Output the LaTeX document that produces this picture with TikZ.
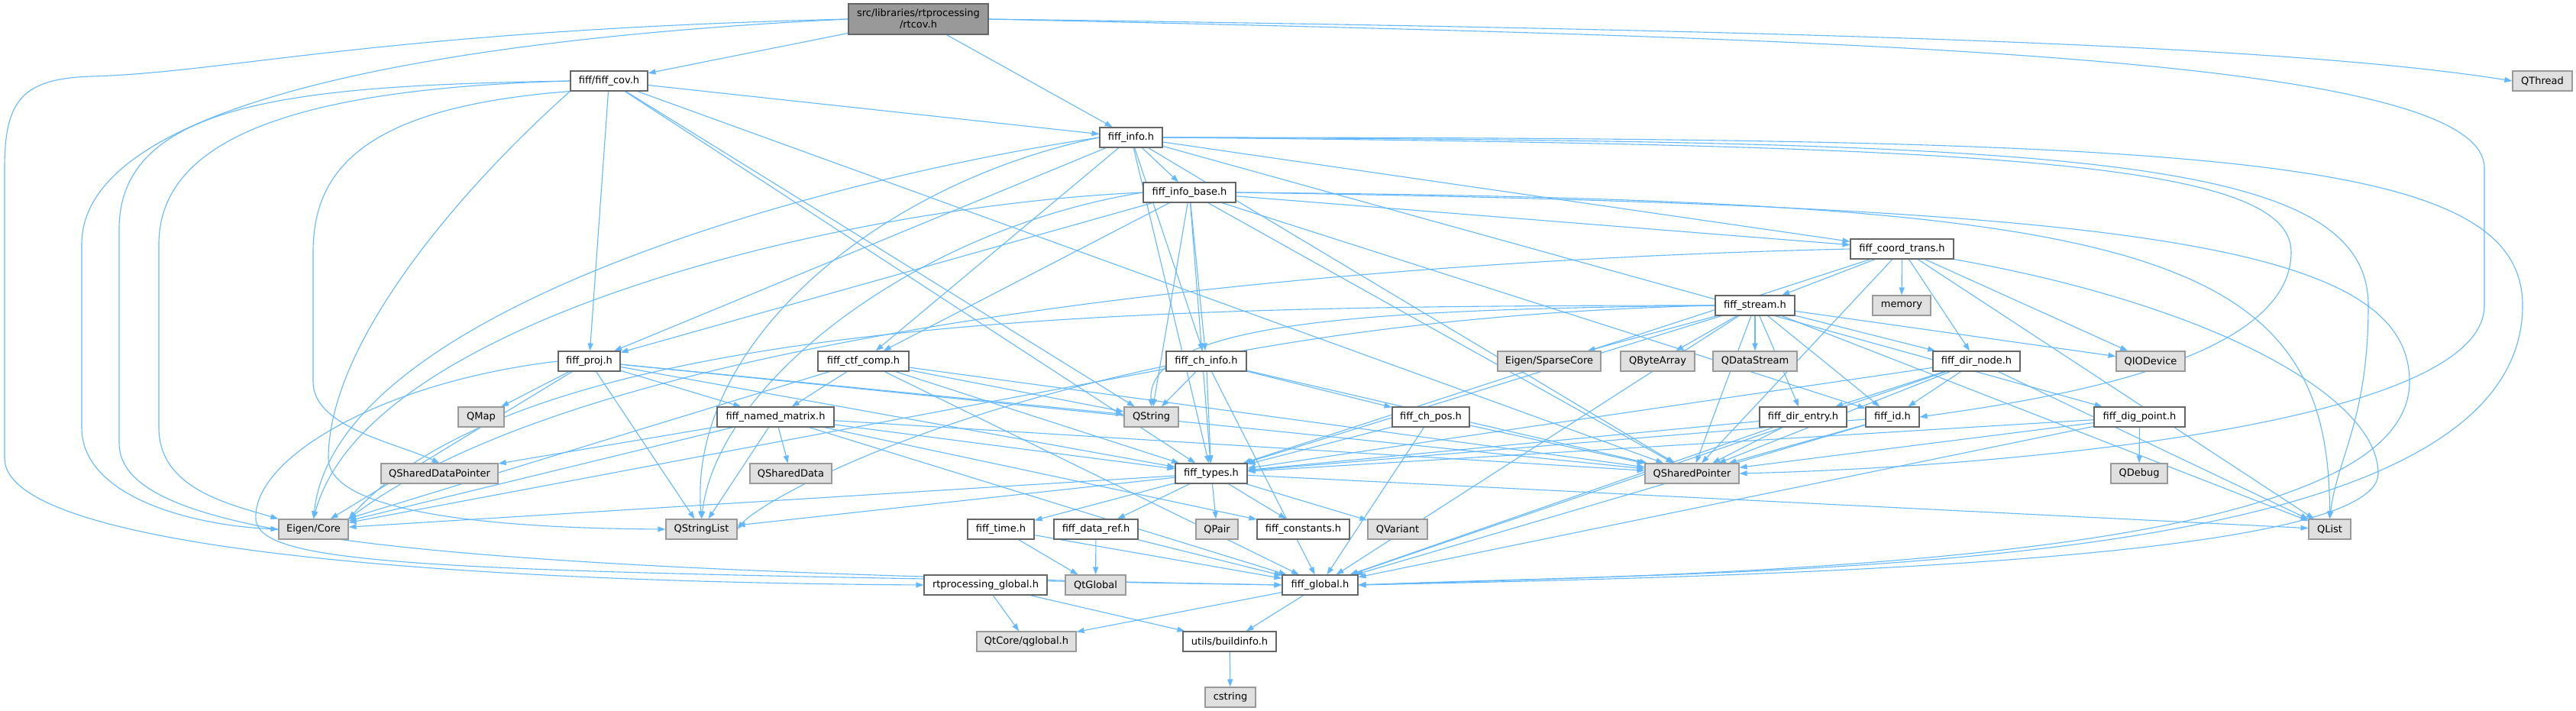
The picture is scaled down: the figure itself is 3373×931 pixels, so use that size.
\documentclass[tikz,border=0pt]{standalone}
\usepackage{fontspec}
\setmainfont{DejaVu Sans}
\usetikzlibrary{arrows.meta}
\definecolor{edgec}{HTML}{63B8FF}
\definecolor{bordc}{HTML}{666666}
\definecolor{xbord}{HTML}{999999}
\definecolor{xfill}{HTML}{E0E0E0}
\definecolor{srcfill}{HTML}{999999}
\pgfdeclarelayer{bg}
\pgfsetlayers{bg,main}
\tikzset{
  e/.style={draw=edgec, line width=1.1pt, -{Triangle[length=10pt,width=7pt]}},
  base/.style={line width=1.1pt, minimum height=26pt, inner sep=0pt, font=\fontsize{13}{15}\selectfont},
  fnode/.style={base, draw=bordc, fill=white},
  xnode/.style={base, draw=xbord, fill=xfill},
  snode/.style={base, draw=bordc, fill=srcfill, align=center, minimum height=40pt},
}
\begin{document}
\begin{tikzpicture}[x=1pt,y=-1pt]
\useasboundingbox (0,0) rectangle (3373,931);
% row 0
\node[snode, minimum width=183pt] (src) at (1202.5,25) {src/libraries/rtprocessing\\/rtcov.h};
% row 1
\node[fnode, minimum width=101pt] (cov) at (797.5,106) {fiff/fiff\_cov.h};
\node[xnode, minimum width=78pt] (qthread) at (3329,106) {QThread};
% row 2-5
\node[fnode, minimum width=82pt] (info) at (1481,180) {fiff\_info.h};
\node[fnode, minimum width=121pt] (ibase) at (1557.5,252) {fiff\_info\_base.h};
\node[fnode, minimum width=135pt] (ctrans) at (2490.5,326) {fiff\_coord\_trans.h};
\node[fnode, minimum width=104pt] (stream) at (2298,400) {fiff\_stream.h};
\node[xnode, minimum width=76pt] (memory) at (2490,400) {memory};
% row 6
\node[fnode, minimum width=81pt] (proj) at (771.5,473) {fiff\_proj.h};
\node[fnode, minimum width=119pt] (ctf) at (1130.5,473) {fiff\_ctf\_comp.h};
\node[fnode, minimum width=105pt] (chinfo) at (1579.5,473) {fiff\_ch\_info.h};
\node[xnode, minimum width=135pt] (sparse) at (2028.5,473) {Eigen/SparseCore};
\node[xnode, minimum width=97pt] (qba) at (2170.5,473) {QByteArray};
\node[xnode, minimum width=110pt] (qds) at (2298,473) {QDataStream};
\node[fnode, minimum width=114pt] (dnode) at (2588,473) {fiff\_dir\_node.h};
\node[xnode, minimum width=90pt] (qiod) at (2816,473) {QIODevice};
% row 7
\node[xnode, minimum width=60pt] (qmap) at (630,546) {QMap};
\node[fnode, minimum width=153pt] (nmat) at (1015.5,546) {fiff\_named\_matrix.h};
\node[xnode, minimum width=71pt] (qstr) at (1507.5,546) {QString};
\node[fnode, minimum width=101pt] (chpos) at (1873.5,546) {fiff\_ch\_pos.h};
\node[fnode, minimum width=114pt] (dentry) at (2361,546) {fiff\_dir\_entry.h};
\node[fnode, minimum width=70pt] (fid) at (2478,546) {fiff\_id.h};
\node[fnode, minimum width=119pt] (dig) at (2801.5,546) {fiff\_dig\_point.h};
% row 8
\node[xnode, minimum width=153pt] (qsdp) at (575.5,620) {QSharedDataPointer};
\node[xnode, minimum width=107pt] (qsd) at (1035.5,620) {QSharedData};
\node[fnode, minimum width=94pt] (types) at (1586,620) {fiff\_types.h};
\node[xnode, minimum width=123pt] (qsp) at (2215.5,620) {QSharedPointer};
\node[xnode, minimum width=74pt] (qdebug) at (2801,620) {QDebug};
% row 9
\node[xnode, minimum width=91pt] (ecore) at (410.5,693) {Eigen/Core};
\node[xnode, minimum width=93pt] (qsl) at (918.5,693) {QStringList};
\node[fnode, minimum width=87pt] (ftime) at (1310.5,693) {fiff\_time.h};
\node[fnode, minimum width=110pt] (dref) at (1435,693) {fiff\_data\_ref.h};
\node[xnode, minimum width=55pt] (qpair) at (1593.5,693) {QPair};
\node[fnode, minimum width=121pt] (fconst) at (1706.5,693) {fiff\_constants.h};
\node[xnode, minimum width=78pt] (qvar) at (1830,693) {QVariant};
\node[xnode, minimum width=55pt] (qlist) at (3050.5,693) {QList};
% row 10-12
\node[fnode, minimum width=161pt] (rtg) at (1290.5,766) {rtprocessing\_global.h};
\node[xnode, minimum width=79pt] (qtg) at (1434.5,766) {QtGlobal};
\node[fnode, minimum width=99pt] (fglob) at (1728.5,766) {fiff\_global.h};
\node[xnode, minimum width=130pt] (qcg) at (1344,840) {QtCore/qglobal.h};
\node[fnode, minimum width=122pt] (binfo) at (1610,840) {utils/buildinfo.h};
\node[xnode, minimum width=66pt] (cstr) at (1611,913) {cstring};

\begin{pgfonlayer}{bg}
% routed connectors
\draw[e] (src.west) .. controls (500,40) and (300,95) .. (120,100) .. controls (30,103) and (6,130) .. (6,220) -- (6,600) .. controls (6,720) and (600,762) .. (rtg.west);
\draw[e] (src.west) .. controls (700,45) and (107,110) .. (107,320) -- (107,560) .. controls (107,650) and (250,688) .. (ecore.west);
\draw[e] (src.east) .. controls (2400,40) and (3000,60) .. (qthread.west);
\draw[e] (src.east) .. controls (2400,50) and (3253,70) .. (3253,220) -- (3253,400) .. controls (3253,560) and (2600,612) .. (qsp.east);
\draw[e] (cov.west) .. controls (400,112) and (156,130) .. (156,300) -- (156,580) .. controls (156,700) and (500,745) .. (fglob.west);
\draw[e] (cov.west) .. controls (420,115) and (208,170) .. (208,320) -- (208,560) .. controls (208,640) and (300,660) .. (ecore.north west);
\draw[e] (cov.south west) .. controls (480,140) and (410,220) .. (410,330) -- (410,500) .. controls (410,560) and (520,580) .. (qsdp.north);
\draw[e] (cov.south west) .. controls (600,250) and (430,450) .. (430,600) .. controls (430,680) and (700,692) .. (qsl.west);
\draw[e] (proj.west) .. controls (500,500) and (330,600) .. (335,680) .. controls (340,745) and (600,748) .. (fglob.west);
\draw[e] (info.east) .. controls (2600,190) and (3000,210) .. (3000,330) .. controls (3000,470) and (2700,520) .. (fid.east);
\draw[e] (info.east) .. controls (2700,185) and (3101,200) .. (3101,400) .. controls (3101,550) and (3060,600) .. (qlist.north);
\draw[e] (info.east) .. controls (2900,180) and (3303,200) .. (3303,400) .. controls (3303,760) and (2300,745) .. (fglob.east);
\draw[e] (ibase.east) .. controls (2800,262) and (3050,320) .. (qlist.north);
\draw[e] (ibase.east) .. controls (2800,270) and (3155,320) .. (3155,500) .. controls (3155,735) and (2300,750) .. (fglob.east);
\draw[e] (ctrans.south east) .. controls (2900,400) and (3114,520) .. (3114,620) .. controls (3114,735) and (2300,755) .. (fglob.east);
\draw[e] (stream.west) .. controls (1800,405) and (1502,420) .. (qstr.north);
\draw[e] (stream.west) .. controls (1500,400) and (700,410) .. (ecore.north east);
\draw[e] (stream.west) .. controls (1400,420) and (1000,650) .. (qsl.east);
\draw[e] (info.west) .. controls (1100,230) and (440,400) .. (ecore.north);
\draw[e] (info.west) .. controls (1150,240) and (900,450) .. (qsl.north);
\draw[e] (ibase.west) .. controls (1100,270) and (480,420) .. (ecore.north);
\draw[e] (ibase.west) .. controls (1200,300) and (940,500) .. (qsl.north);
\draw[e] (ctrans.west) .. controls (1800,340) and (800,420) .. (ecore.north east);
% straight connectors
\foreach \a/\b in {src/cov, src/info, cov/info, cov/proj, cov/types, cov/qstr, cov/qsp,
  info/ibase, info/proj, info/ctf, info/chinfo, info/types, info/ctrans, info/dig, info/qsp,
  ibase/ctrans, ibase/proj, ibase/ctf, ibase/chinfo, ibase/types, ibase/qstr, ibase/fid, ibase/qsp,
  ctrans/stream, ctrans/memory, ctrans/dnode, ctrans/qiod, ctrans/types, ctrans/qsp, ctrans/qlist,
  stream/types, stream/fid, stream/dentry, stream/dnode, stream/qiod, stream/qds, stream/qba, stream/sparse, stream/qsp, stream/qlist, stream/fglob,
  dnode/dentry, dnode/fid, dnode/types, dnode/qsp, dnode/qlist, dnode/fglob,
  dentry/types, dentry/qsp, dentry/fglob,
  fid/qsp, fid/types, fid/fglob,
  dig/qdebug, dig/qsp, dig/types, dig/fglob,
  proj/qmap, proj/nmat, proj/types, proj/ecore, proj/qsl, proj/qstr, proj/qsp,
  ctf/nmat, ctf/types, ctf/ecore, ctf/qsp, ctf/fglob, ctf/qstr,
  chinfo/qstr, chinfo/types, chinfo/chpos, chinfo/qsp, chinfo/fglob, chinfo/ecore,
  chpos/types, chpos/fglob, chpos/qsp,
  nmat/qsdp, nmat/qsd, nmat/ecore, nmat/qsl, nmat/types, nmat/qsp, nmat/fglob, nmat/fconst,
  types/ftime, types/dref, types/qpair, types/fconst, types/qvar, types/ecore, types/qsl, types/qlist,
  ftime/qtg, ftime/fglob, dref/qtg, dref/fglob,
  rtg/qcg, rtg/binfo, fglob/qcg, fglob/binfo, binfo/cstr}
  \draw[e] (\a) -- (\b);
\end{pgfonlayer}
\end{tikzpicture}
\end{document}
